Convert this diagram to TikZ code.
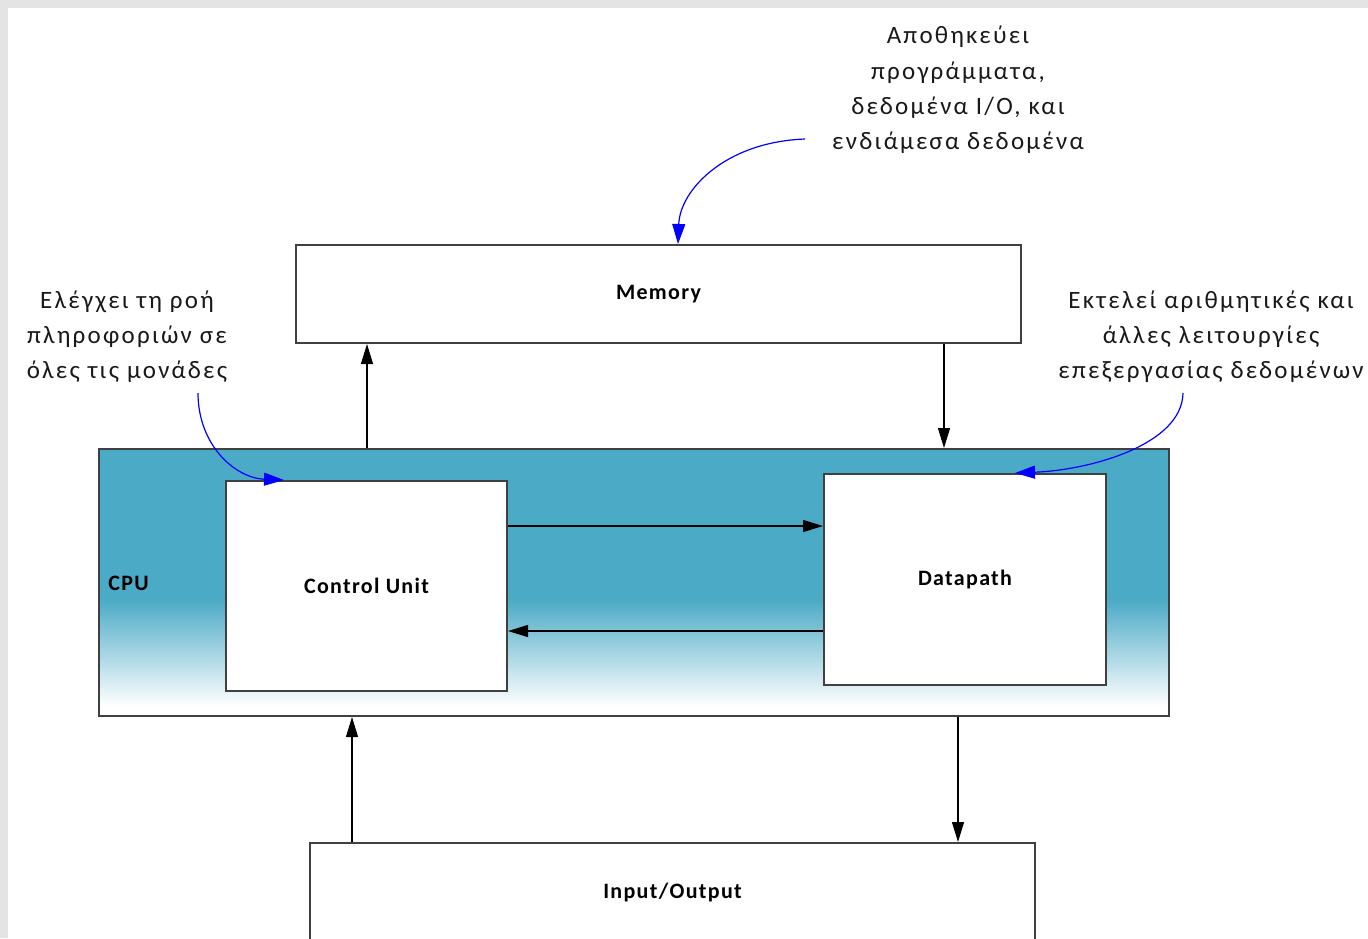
\documentclass[tikz,border=0pt]{standalone}
\usepackage{fontspec}
\setmainfont{Carlito}
\usetikzlibrary{arrows.meta}
\definecolor{cputeal}{RGB}{75,170,198}
\definecolor{edge}{RGB}{64,64,64}
\definecolor{frame}{RGB}{228,228,228}
\begin{document}
\begin{tikzpicture}[x=0.5pt,y=-0.5pt,
  lbl/.style={font=\bfseries\fontsize{11}{13}\selectfont\addfontfeature{LetterSpace=6}},
  box/.style={draw=edge,line width=1pt,fill=white,inner sep=0pt,lbl},
  conn/.style={line width=0.6pt,-{Triangle[length=10pt,width=6pt]}},
  note/.style={align=center,font=\fontsize{12.5}{17.6}\selectfont\addfontfeature{LetterSpace=9},text=black!90},
  bluearrow/.style={blue,line width=0.6pt,-{Triangle[length=10pt,width=6.5pt]}}]
\useasboundingbox (0,0) rectangle (1368,938);
\clip (0,0) rectangle (1368,938);
\fill[frame] (0,0) rectangle (1368,938);
\fill[white] (8,8) rectangle (1368,938);

% CPU container
\fill[cputeal] (99,449) rectangle (1169,600);
\shade[top color=cputeal,bottom color=white] (99,599.5) rectangle (1169,706);
\fill[white] (99,705.5) rectangle (1169,716);
\node[draw=edge,line width=1pt,minimum width=535pt,minimum height=133.5pt,inner sep=0pt] (cpu) at (634,582.5) {};
\node[anchor=west,lbl,inner sep=0pt] (cpulbl) at (108,583) {CPU};

\node[box,minimum width=362.5pt,minimum height=49pt] (mem) at (658.5,294) {Memory};
\node[box,minimum width=140.5pt,minimum height=105pt] (cu) at (366.5,586) {Control Unit};
\node[box,minimum width=141pt,minimum height=105.5pt] (dp) at (965,579.5) {Datapath};
\node[box,minimum width=362.5pt,minimum height=49pt] (io) at (672.5,892) {Input/Output};

% connectors
\draw[conn] (cpu.north -| 367,0) -- (mem.south -| 367,0);
\draw[conn] (mem.south -| 944,0) -- (cpu.north -| 944,0);
\draw[conn] (cu.east |- 0,526) -- (dp.west |- 0,526);
\draw[conn] (dp.west |- 0,631) -- (cu.east |- 0,631);
\draw[conn] (io.north -| 352,0) -- (cpu.south -| 352,0);
\draw[conn] (cpu.south -| 958,0) -- (io.north -| 958,0);

% annotations
\node[note] (nmem) at (958,90) {Αποθηκεύει\\προγράμματα,\\δεδομένα I/O, και\\ενδιάμεσα δεδομένα};
\node[note] (ncu) at (127,337) {Ελέγχει τη ροή\\πληροφοριών σε\\όλες τις μονάδες};
\node[note] (ndp) at (1211,337) {Εκτελεί αριθμητικές και\\άλλες λειτουργίες\\επεξεργασίας δεδομένων};

\coordinate (s1) at (805,139);
\coordinate (e1) at (678,244);
\coordinate (s2) at (198,393);
\coordinate (e2) at (284,480);
\coordinate (s3) at (1183,393);
\coordinate (e3) at (1015,473);
\draw[bluearrow] (s1) .. controls (725,142) and (680,190) .. (e1);
\draw[bluearrow] (s2) .. controls (198,445) and (235,478) .. (e2);
\draw[bluearrow] (s3) .. controls (1182,445) and (1090,470) .. (e3);
\end{tikzpicture}
\end{document}
